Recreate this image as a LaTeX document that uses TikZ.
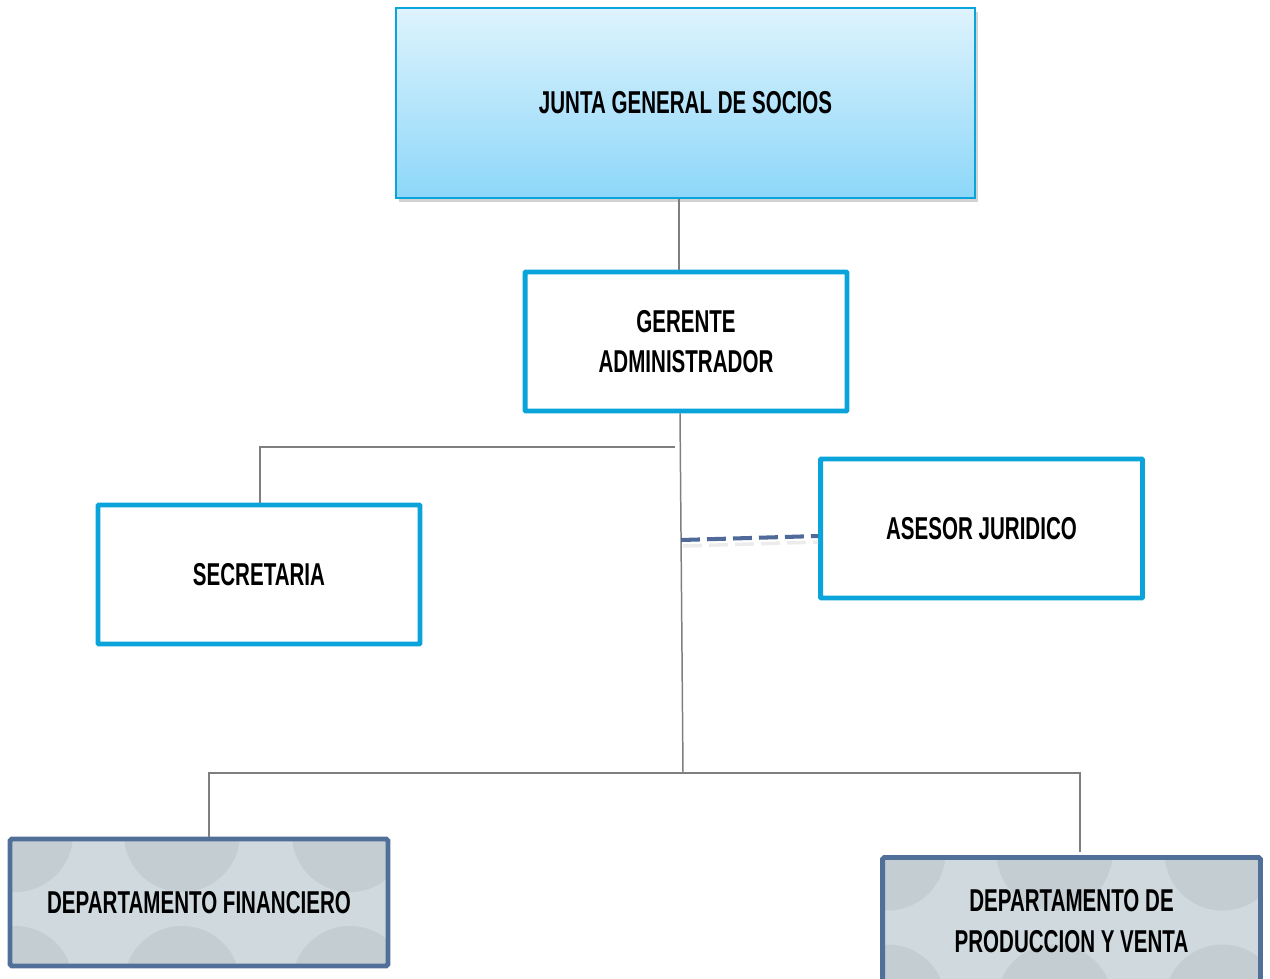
\documentclass[tikz,border=0pt]{standalone}
\usepackage{fontspec}
\usepackage{tikz}
\usetikzlibrary{shadows}
\newfontfamily\orgfont[FakeStretch=0.65]{Liberation Sans}
\definecolor{juntatop}{HTML}{DEF3FD}
\definecolor{juntabot}{HTML}{8DD7F9}
\definecolor{cyanedge}{HTML}{0AA3DA}
\definecolor{deptedge}{HTML}{50709A}
\definecolor{deptfill}{HTML}{CFD9DE}
\definecolor{deptdot}{HTML}{C4CDD1}
\definecolor{linkgray}{HTML}{7F7F7F}
\definecolor{dashblue}{HTML}{4F6A99}
\tikzset{
  orgtext/.style = {font=\orgfont\bfseries\fontsize{18}{23}\selectfont, align=center, text=black},
  juntabox/.style = {orgtext, draw=cyanedge, line width=1.1pt, top color=juntatop, bottom color=juntabot,
                     drop shadow={opacity=0.35, shadow xshift=0.6mm, shadow yshift=-0.8mm},
                     minimum width=11.58cm, minimum height=3.8cm},
  cargobox/.style = {orgtext, draw=cyanedge, line width=2.8pt, fill=white, rounded corners=0.5pt,
                     minimum width=6.44cm, minimum height=2.78cm},
  deptbox/.style = {orgtext, draw=deptedge, line width=2.8pt, fill=deptfill, rounded corners=1pt,
                    minimum width=7.56cm, minimum height=2.54cm,
                    path picture={
                      \foreach \cx in {0.1,3.44,6.8} \foreach \cy in {0.1,-2.9}
                        \fill[deptdot] ($(path picture bounding box.north west)+(\cx cm,\cy cm)$) circle (1.16cm);
                    }},
  link/.style = {draw=linkgray, line width=0.85pt},
}
\usetikzlibrary{calc}
\begin{document}
\begin{tikzpicture}[x=0.02cm,y=-0.02cm]
  \useasboundingbox (0,0) rectangle (1270,978);
  % boxes
  \node[juntabox] (junta) at (685.5,103) {JUNTA GENERAL DE SOCIOS};
  \node[cargobox] (gerente) at (686,341.5) {GERENTE\\ADMINISTRADOR};
  \node[cargobox] (secretaria) at (259,574.5) {SECRETARIA};
  \node[cargobox] (asesor) at (981.5,528.5) {ASESOR JURIDICO};
  \node[deptbox] (financiero) at (199,902.5) {DEPARTAMENTO FINANCIERO};
  \node[deptbox] (produccion) at (1071.5,921) {DEPARTAMENTO DE\\PRODUCCION Y VENTA};
  % connectors
  \coordinate (secjoin) at (675,447);
  \coordinate (deptjoin) at (683,773);
  \coordinate (asejoin) at (681,540);
  \draw[link] (junta.south -| 679,0) -- (gerente.north -| 679,0);
  \draw[link] (gerente.south -| 680,0) -- (deptjoin);
  \draw[link] (secjoin) -| (secretaria.north -| 260,0);
  \draw[link] (deptjoin) -| (financiero.north -| 209,0);
  \draw[link] (deptjoin) -| (1080,852);
  \draw[gray!15, line width=2pt, dash pattern=on 10.8pt off 4pt] ($(asejoin)+(2,6)$) -- ($(asesor.west)+(0,13.5)$);
  \draw[dashblue, line width=2.3pt, dash pattern=on 10.8pt off 4pt] (asejoin) -- ($(asesor.west)+(0,7.5)$);
\end{tikzpicture}
\end{document}
